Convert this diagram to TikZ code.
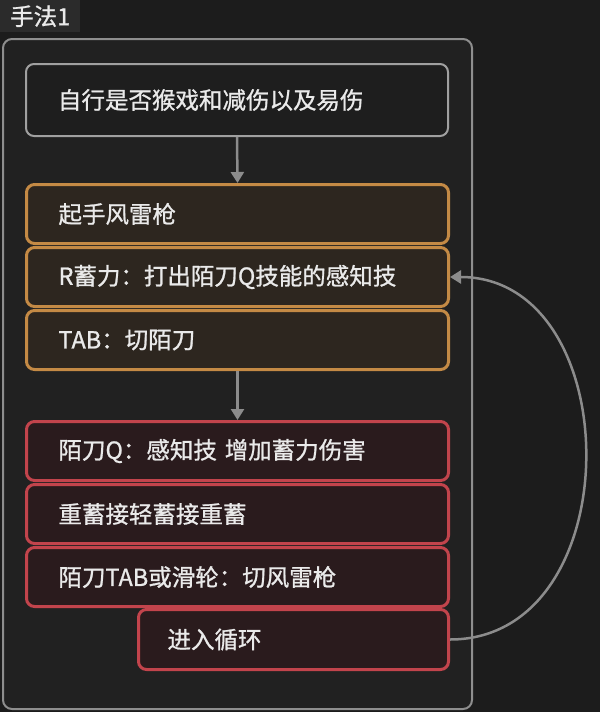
\documentclass[tikz,border=0pt]{standalone}
\usepackage{fontspec}
\setmainfont[FakeBold=1.0]{Noto Sans CJK SC}
\usetikzlibrary{arrows.meta}
\definecolor{bgc}{HTML}{1C1C1C}
\definecolor{framefill}{HTML}{212121}
\definecolor{framestroke}{HTML}{8E8E8E}
\definecolor{tabfill}{HTML}{2B2B2B}
\definecolor{txt}{HTML}{EAEAEA}
\definecolor{greybox}{HTML}{A0A0A0}
\definecolor{greyfill}{HTML}{1E1E1E}
\definecolor{orstroke}{HTML}{C48A45}
\definecolor{orfill}{HTML}{2D261F}
\definecolor{rdstroke}{HTML}{C2444C}
\definecolor{rdfill}{HTML}{2A1B1D}
\definecolor{arrc}{HTML}{8C8C8C}
\tikzset{
  basebox/.style={rounded corners=8pt, anchor=north west, align=left,
    text=txt, font=\fontsize{23.5}{28}\selectfont, inner ysep=0pt},
  greynode/.style={basebox, draw=greybox, fill=greyfill, line width=2pt,
    inner xsep=32pt, text width=358pt, minimum height=72pt},
  ornode/.style={basebox, draw=orstroke, fill=orfill, line width=3pt,
    inner xsep=32pt, text width=358pt, minimum height=59pt},
  rdnode/.style={basebox, draw=rdstroke, fill=rdfill, line width=3pt,
    inner xsep=32pt, text width=358pt, minimum height=59pt},
  rdshort/.style={basebox, draw=rdstroke, fill=rdfill, line width=3pt,
    inner xsep=29pt, text width=252pt, minimum height=60pt},
  arr/.style={draw=arrc, line width=2.5pt, -{Triangle[width=13pt,length=11pt]}},
}
\begin{document}
\begin{tikzpicture}[x=1pt,y=-1pt]
\useasboundingbox (0,0) rectangle (600,712);
\fill[bgc] (0,0) rectangle (600,712);
% group frame
\node[draw=framestroke, fill=framefill, line width=2pt, rounded corners=9pt,
  anchor=north west, minimum width=469pt, minimum height=670pt, inner sep=0pt] (frame) at (2,38) {};
% title tab
\node[fill=tabfill, anchor=north west, minimum width=80pt, minimum height=32pt,
  inner sep=0pt, text=txt, font=\fontsize{23.5}{28}\selectfont] (title) at (0,0) {手法1};
% boxes
\node[greynode] (start) at (25,63) {自行是否猴戏和减伤以及易伤};
\node[ornode] (oa) at (25,183) {起手风雷枪};
\node[ornode] (ob) at (25,246) {R蓄力：打出陌刀Q技能的感知技};
\node[ornode] (oc) at (25,309) {TAB：切陌刀};
\node[rdnode] (ra) at (25,420) {陌刀Q：感知技 增加蓄力伤害};
\node[rdnode] (rb) at (25,483) {重蓄接轻蓄接重蓄};
\node[rdnode] (rc) at (25,546) {陌刀TAB或滑轮：切风雷枪};
\node[rdshort] (loop) at (137,608) {进入循环};
% connectors
\draw[arr] (start.south) -- (oa.north);
\draw[arr] (oc.south) -- (ra.north);
\draw[arr] (loop.east) .. controls +(181,0) and +(179,0) .. (ob.east);
\end{tikzpicture}
\end{document}
